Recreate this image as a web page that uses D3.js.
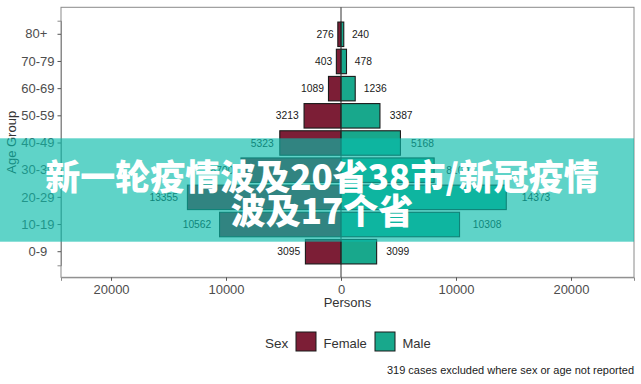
<!DOCTYPE html>
<html>
<head>
<meta charset="utf-8">
<script src="https://cdn.jsdelivr.net/npm/d3@7"></script>
<style>
  body { margin: 0; background: #fff; }
  svg { display: block; font-family: "Liberation Sans", Arial, sans-serif; }
</style>
</head>
<body>
<div id="chart"></div>
<script>
var width = 641,
  height = 384;

// DATA
var ageGroups = ['80+', '70-79', '60-69', '50-59', '40-49', '30-39', '20-29', '10-19', '0-9'];
var femaleCases = [276, 403, 1089, 3213, 5323, 8700, 13355, 10562, 3095];
var maleCases = [240, 478, 1236, 3387, 5168, 8100, 14373, 10308, 3099];
var xTicks = [-20000, -10000, 0, 10000, 20000];
var sexKeys = ['Female', 'Male'];
var sexColors = ['#7c1e36', '#18a88c'];
var headline = ['新一轮疫情波及20省38市/新冠疫情', '波及17个省'];
var captionText = '319 cases excluded where sex or age not reported';

// panel box
var panel = { left: 61, right: 634, top: 7.3, bottom: 277.3 };

var svg = d3.select('#chart')
  .append('svg')
  .attr('width', width)
  .attr('height', height);

var x = d3.scaleLinear()
  .domain([-24350, 25480])
  .range([panel.left, panel.right]);

var y = d3.scaleBand()
  .domain(ageGroups)
  .range([20.7, 265.3])
  .paddingInner(0.1)
  .paddingOuter(0.05);

// panel border
svg.append('rect')
  .attr('x', panel.left)
  .attr('y', panel.top)
  .attr('width', panel.right - panel.left)
  .attr('height', panel.bottom - panel.top)
  .attr('fill', 'none')
  .attr('stroke', '#8a8a8a')
  .attr('stroke-width', 1);

// bars - female on the left as negative values
var rows = ageGroups.map(function(g, i) {
  return { group: g, female: femaleCases[i], male: maleCases[i] };
});

var bars = svg.append('g')
  .attr('stroke', '#1a1a1a')
  .attr('stroke-width', 1.1);

bars.selectAll('rect.female')
  .data(rows)
  .join('rect')
  .attr('class', 'female')
  .attr('x', d => x(-d.female))
  .attr('y', d => y(d.group))
  .attr('width', d => x(0) - x(-d.female))
  .attr('height', y.bandwidth())
  .attr('fill', sexColors[0]);

bars.selectAll('rect.male')
  .data(rows)
  .join('rect')
  .attr('class', 'male')
  .attr('x', x(0))
  .attr('y', d => y(d.group))
  .attr('width', d => x(d.male) - x(0))
  .attr('height', y.bandwidth())
  .attr('fill', sexColors[1]);

// zero line
svg.append('line')
  .attr('x1', x(0)).attr('x2', x(0))
  .attr('y1', panel.top).attr('y2', panel.bottom)
  .attr('stroke', '#333')
  .attr('stroke-width', 1);

// value labels
var labels = svg.append('g')
  .attr('font-size', '10.3px')
  .attr('fill', '#1a1a1a');

labels.selectAll('text.fl')
  .data(rows)
  .join('text')
  .attr('class', 'fl')
  .attr('x', d => x(-d.female * 1.035) - 4)
  .attr('y', d => y(d.group) + y.bandwidth() / 2)
  .attr('dy', '0.35em')
  .attr('text-anchor', 'end')
  .text(d => d.female);

labels.selectAll('text.ml')
  .data(rows)
  .join('text')
  .attr('class', 'ml')
  .attr('x', d => x(d.male * 1.045) + 8)
  .attr('y', d => y(d.group) + y.bandwidth() / 2)
  .attr('dy', '0.35em')
  .attr('text-anchor', 'start')
  .text(d => d.male);

// axes
var xAxis = svg.append('g')
  .attr('transform', 'translate(0,' + panel.bottom + ')')
  .call(d3.axisBottom(x).tickValues(xTicks).tickSize(3.5).tickPadding(4)
    .tickFormat(d => Math.abs(d)));

var yAxis = svg.append('g')
  .attr('transform', 'translate(' + panel.left + ',0)')
  .call(d3.axisLeft(y).tickSize(3.5).tickPadding(3)
    .tickFormat(d => (d === '80+' || d === '0-9') ? d + '\u00a0\u00a0' : d));

[xAxis, yAxis].forEach(function(ax) {
  ax.select('.domain').attr('stroke', '#8a8a8a');
  ax.selectAll('.tick line').attr('stroke', '#555');
  ax.selectAll('.tick text')
    .attr('fill', '#4d4d4d')
    .attr('font-size', '13px')
    .attr('font-family', '"Liberation Sans", Arial, sans-serif');
});

// axis titles
svg.append('text')
  .attr('x', (panel.left + panel.right) / 2)
  .attr('y', 306.5)
  .attr('text-anchor', 'middle')
  .attr('font-size', '13px')
  .attr('fill', '#333')
  .text('Persons');

svg.append('text')
  .attr('transform', 'translate(16,' + (panel.top + panel.bottom) / 2 + ') rotate(-90)')
  .attr('text-anchor', 'middle')
  .attr('font-size', '13px')
  .attr('fill', '#333')
  .text('Age Group');

// legend
var legend = svg.append('g');
legend.append('text')
  .attr('x', 265)
  .attr('y', 348)
  .attr('font-size', '13.5px')
  .attr('fill', '#333')
  .text('Sex');

var keyX = [296, 375];
sexKeys.forEach(function(k, i) {
  legend.append('rect')
    .attr('x', keyX[i])
    .attr('y', 332)
    .attr('width', 20)
    .attr('height', 19)
    .attr('fill', sexColors[i])
    .attr('stroke', '#1a1a1a')
    .attr('stroke-width', 1);
  legend.append('text')
    .attr('x', keyX[i] + 27.5)
    .attr('y', 348)
    .attr('font-size', '13px')
    .attr('fill', '#333')
    .text(k);
});

// caption
svg.append('text')
  .attr('x', 634)
  .attr('y', 374)
  .attr('text-anchor', 'end')
  .attr('font-size', '11px')
  .attr('fill', '#1a1a1a')
  .text(captionText);

// headline overlay band
svg.append('rect')
  .attr('x', 0)
  .attr('y', 138.3)
  .attr('width', 634)
  .attr('height', 103.4)
  .attr('fill', 'rgb(9,187,171)')
  .attr('opacity', 0.65);

svg.append('g')
  .attr('font-family', '"Noto Sans CJK SC", sans-serif')
  .attr('font-weight', 900)
  .attr('font-size', '35px')
  .attr('fill', '#fff')
  .attr('text-anchor', 'middle')
  .selectAll('text')
  .data(headline)
  .join('text')
  .attr('x', 322)
  .attr('y', (d, i) => 177.5 + i * 33.5)
  .attr('dy', '0.36em')
  .text(d => d);
</script>
</body>
</html>
